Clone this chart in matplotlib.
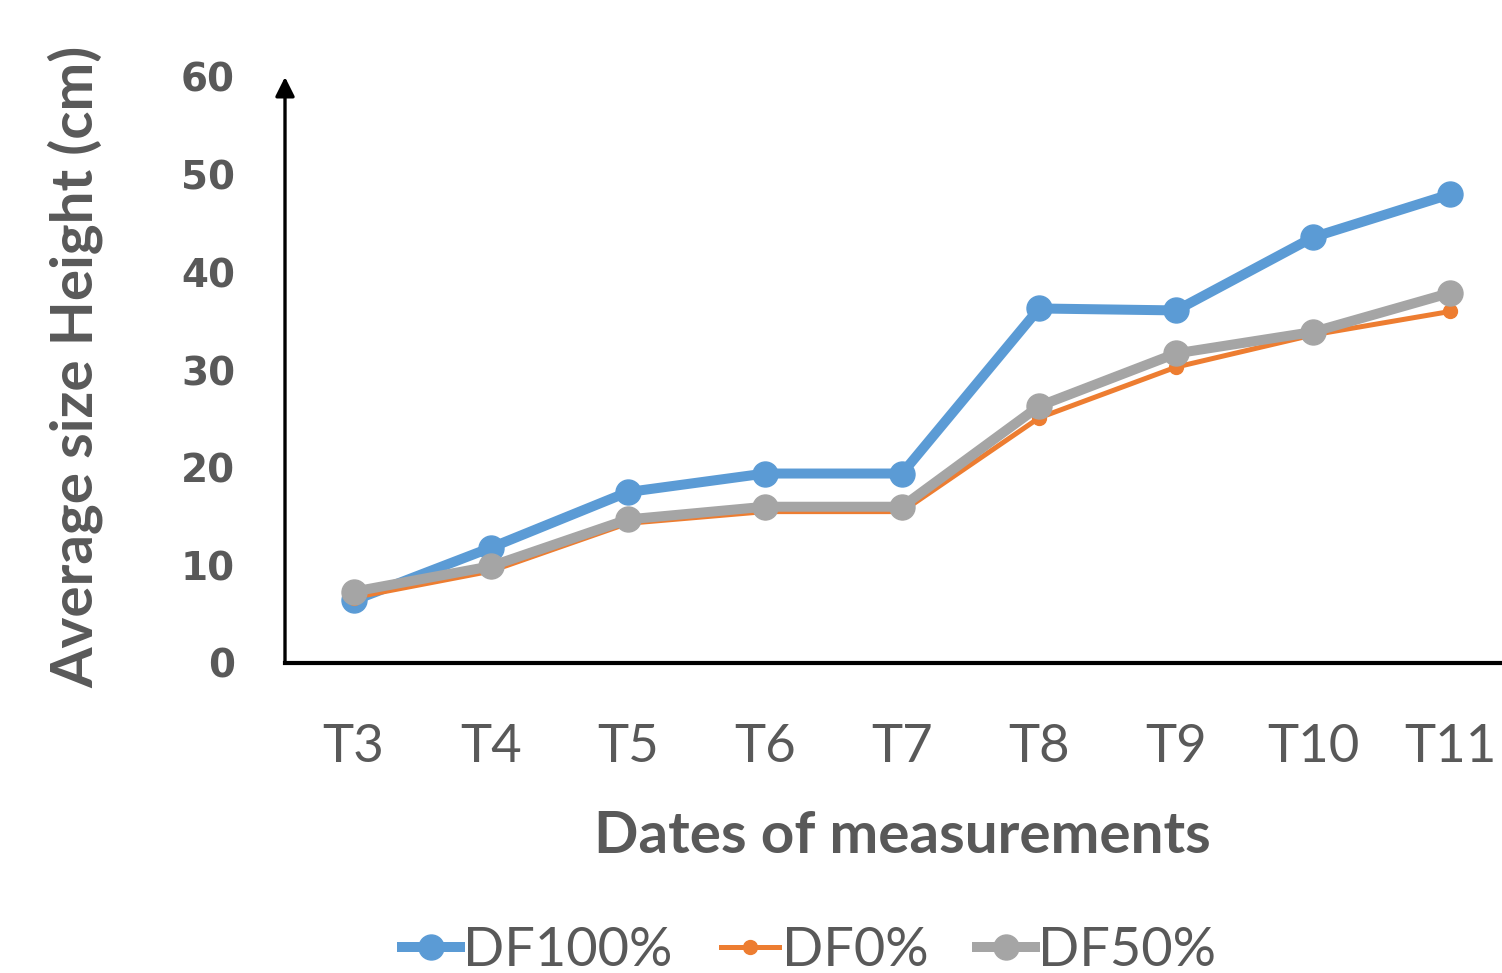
import matplotlib
matplotlib.use("Agg")
import matplotlib.pyplot as plt

# Measurement dates and average plant height (cm) for each treatment
dates = ["T3", "T4", "T5", "T6", "T7", "T8", "T9", "T10", "T11"]
df100 = [6.4, 11.8, 17.5, 19.4, 19.4, 36.3, 36.1, 43.6, 48.0]
df0 = [6.7, 9.4, 14.3, 15.5, 15.5, 25.1, 30.3, 33.6, 36.0]
df50 = [7.3, 9.9, 14.7, 16.0, 16.0, 26.3, 31.7, 33.9, 37.9]
series_names = ["DF100%", "DF0%", "DF50%"]
y_ticks = [0, 10, 20, 30, 40, 50, 60]

TEXT = "#595959"
BLUE = "#5B9BD5"
ORANGE = "#ED7D31"
GREY = "#A5A5A5"
SANS = ["Lato", "DejaVu Sans"]

fig = plt.figure(figsize=(15.02, 9.73), dpi=100)
ax = fig.add_axes([285 / 1502, 1 - 663 / 973, (1519 - 285) / 1502, (663 - 77) / 973])

x = list(range(len(dates)))
ax.plot(x, df100, color=BLUE, lw=7.2, marker="o", ms=18, label=series_names[0],
        solid_joinstyle="round", zorder=3)
ax.plot(x, df0, color=ORANGE, lw=3.6, marker="o", ms=10, label=series_names[1],
        solid_joinstyle="round", zorder=4)
ax.plot(x, df50, color=GREY, lw=7.2, marker="o", ms=18, label=series_names[2],
        solid_joinstyle="round", zorder=5)

ax.set_xlim(-0.5, len(dates) - 0.5)
ax.set_ylim(0, 60)

for side in ("top", "right", "left"):
    ax.spines[side].set_visible(False)
ax.spines["bottom"].set_linewidth(3)
ax.spines["bottom"].set_color("black")

# vertical axis drawn as an arrow
ax.annotate("", xy=(-0.5, 60), xytext=(-0.5, 0),
            xycoords="data", textcoords="data",
            arrowprops=dict(arrowstyle="-|>", color="black", lw=2.4,
                            mutation_scale=29, shrinkA=0, shrinkB=0),
            annotation_clip=False, zorder=6)

ax.set_xticks(x)
ax.set_xticklabels(dates, fontsize=38, color=TEXT, family=SANS)
ax.set_yticks(y_ticks)
ax.set_yticklabels([str(v) for v in y_ticks], fontsize=28, color=TEXT,
                   family="DejaVu Sans", fontweight="bold")
ax.tick_params(axis="both", length=0)
ax.tick_params(axis="x", pad=44)
ax.tick_params(axis="y", pad=36)

ax.set_xlabel("Dates of measurements", fontsize=42, color=TEXT, family=SANS,
              fontweight="bold", labelpad=28)
fig.text(75 / 1502, 1 - 367 / 973, "Average size Height (cm)", rotation=90,
         fontsize=42, color=TEXT, family=SANS, fontweight="bold",
         ha="center", va="center")

leg = fig.legend(loc="center", bbox_to_anchor=(809 / 1502, 1 - 950 / 973),
                 ncol=3, frameon=False, handlelength=1.07, handletextpad=0.05,
                 columnspacing=0.9, prop={"family": SANS, "size": 39})
for t in leg.get_texts():
    t.set_color(TEXT)

fig.savefig("out.png", dpi=100)
